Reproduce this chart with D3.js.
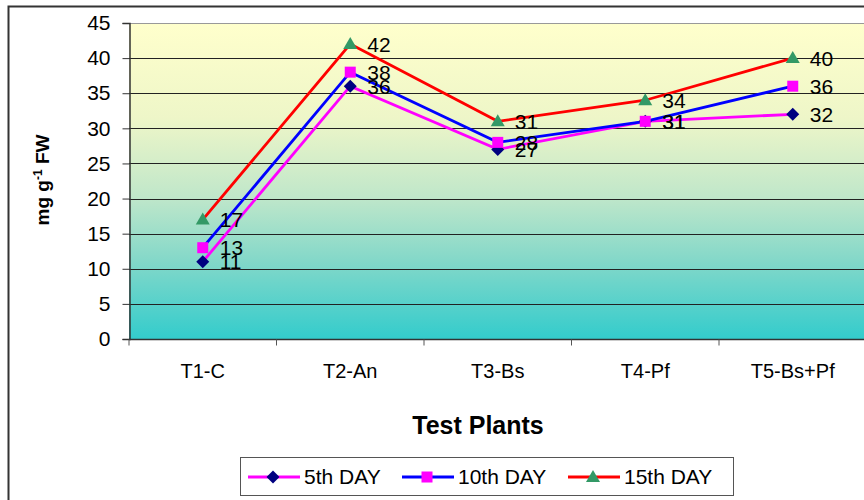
<!DOCTYPE html>
<html><head><meta charset="utf-8">
<script src="https://cdn.jsdelivr.net/npm/d3@7"></script>
<style>body{margin:0;background:#fff;}svg{display:block;font-family:"Liberation Sans",Arial,sans-serif;}</style>
</head><body>
<svg id="c" width="864" height="500"></svg>
<script>
const categories = ["T1-C","T2-An","T3-Bs","T4-Pf","T5-Bs+Pf"];
const day5 = [11,36,27,31,32];
const day10 = [13,38,28,31,36];
const day15 = [17,42,31,34,40];
const seriesNames = ["5th DAY","10th DAY","15th DAY"];
const yTicks = [0,5,10,15,20,25,30,35,40,45];

const series = [
  {name: seriesNames[0], values: day5, line: "#FF00FF", marker: "diamond", mfill: "#000080"},
  {name: seriesNames[1], values: day10, line: "#0000FF", marker: "square", mfill: "#FF00FF"},
  {name: seriesNames[2], values: day15, line: "#FF0000", marker: "triangle", mfill: "#339966"}
];

const svg = d3.select("#c");
const L = 129, T = 23, B = 339, R = 866.5;
const x = d3.scaleBand().domain(categories).range([L, R]);
const y = d3.scaleLinear().domain([0,45]).range([B, T]);
const cx = d => x(d) + x.bandwidth()/2;
const FF = "Liberation Sans, Arial, sans-serif";

// outer border
svg.append("path").attr("d", `M8.5,510 L8.5,6.5 L870,6.5`).attr("fill","none").attr("stroke","#333").attr("stroke-width",2);

// gradient
const defs = svg.append("defs");
const g = defs.append("linearGradient").attr("id","bg").attr("x1",0).attr("y1",0).attr("x2",0).attr("y2",1);
[[0,"#FFFFCC"],[0.3,"#EEF6C8"],[0.55,"#C0E7CA"],[0.75,"#84D8C9"],[1,"#33CCCC"]].forEach(s=>g.append("stop").attr("offset",s[0]).attr("stop-color",s[1]));
svg.append("rect").attr("x",L).attr("y",T).attr("width",R-L).attr("height",B-T).attr("fill","url(#bg)");

// gridlines
svg.append("g").selectAll("line").data(yTicks.filter(v=>v>0)).join("line")
  .attr("x1",L).attr("x2",R).attr("y1",d=>Math.round(y(d))+0.5).attr("y2",d=>Math.round(y(d))+0.5)
  .attr("stroke",d=>d===45?"#999":"#222").attr("stroke-width",1);

// y axis
const yAxis = d3.axisLeft(y).tickValues(yTicks).tickSize(7).tickPadding(12);
const ya = svg.append("g").attr("transform",`translate(${L+0.5},0)`).call(yAxis);
ya.attr("font-family",FF).attr("font-size",21);
ya.select(".domain").attr("stroke","#333").attr("stroke-width",1.5);
ya.selectAll(".tick line").attr("stroke","#333");
ya.selectAll(".tick text").attr("fill","#000");

// x axis
const xa = svg.append("g").attr("transform",`translate(0,${B+0.5})`);
xa.append("line").attr("x1",L).attr("x2",R).attr("stroke","#333").attr("stroke-width",1.5);
xa.selectAll("line.t").data(categories).join("line").attr("class","t")
  .attr("x1",d=>x(d)).attr("x2",d=>x(d)).attr("y1",0).attr("y2",6).attr("stroke","#555");
xa.selectAll("text").data(categories).join("text")
  .attr("x",d=>cx(d)).attr("y",38).attr("text-anchor","middle").attr("font-size",20).attr("fill","#000").text(d=>d);

// lines
const line = d3.line().x((d,i)=>cx(categories[i])).y(d=>y(d));
series.forEach(s=>{
  svg.append("path").datum(s.values).attr("d",line).attr("fill","none").attr("stroke",s.line).attr("stroke-width",2.8);
});

function marker(sel, type, fill){
  if(type==="diamond") sel.append("path").attr("d","M0,-6.5L6.5,0L0,6.5L-6.5,0Z").attr("fill",fill);
  else if(type==="square") sel.append("rect").attr("x",-5.5).attr("y",-5.5).attr("width",11).attr("height",11).attr("fill",fill);
  else sel.append("path").attr("d","M0,-7L7,5L-7,5Z").attr("fill",fill);
}
series.forEach(s=>{
  s.values.forEach((v,i)=>{
    const gm = svg.append("g").attr("transform",`translate(${cx(categories[i])},${y(v)})`);
    marker(gm, s.marker, s.mfill);
  });
});
// data labels
series.forEach(s=>{
  svg.append("g").selectAll("text").data(s.values).join("text")
    .attr("x",(d,i)=>cx(categories[i])+17).attr("y",d=>y(d)+7.5)
    .attr("font-size",21).attr("fill","#000").text(d=>d);
});

// axis titles
svg.append("text").attr("x",478).attr("y",434).attr("text-anchor","middle").attr("font-size",25).attr("font-weight","bold").text("Test Plants");
const yt = svg.append("text").attr("transform","translate(49,180) rotate(-90)").attr("text-anchor","middle").attr("font-size",19).attr("font-weight","bold");
yt.append("tspan").text("mg g");
yt.append("tspan").attr("dy",-7).attr("font-size",12).text("-1");
yt.append("tspan").attr("dy",7).text(" FW");

// legend
const lg = svg.append("g");
lg.append("rect").attr("x",240.5).attr("y",457.5).attr("width",493).attr("height",38).attr("fill","#fff").attr("stroke","#555").attr("stroke-width",1);
const lx = [248, 402, 568];
series.forEach((s,i)=>{
  const gi = lg.append("g").attr("transform",`translate(${lx[i]},477)`);
  gi.append("line").attr("x1",0).attr("x2",52).attr("stroke",s.line).attr("stroke-width",2.8);
  const gm = gi.append("g").attr("transform","translate(25,0)");
  marker(gm, s.marker, s.mfill);
  gi.append("text").attr("x",56).attr("y",7).attr("font-size",21).attr("fill","#000").text(s.name);
});
</script>
</body></html>
